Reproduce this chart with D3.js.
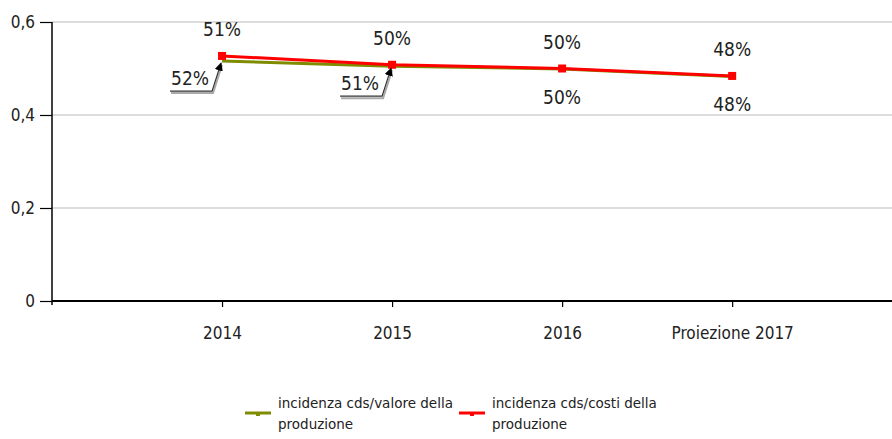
<!DOCTYPE html>
<html>
<head>
<meta charset="utf-8">
<script src="https://cdn.jsdelivr.net/npm/d3@7"></script>
<style>
  body { margin: 0; background: #fff; }
  svg { display: block; }
  .cond { font-stretch: condensed; }
</style>
</head>
<body>
<svg id="plotSvg" width="892" height="439"></svg>
<script>
// categories and series
var categories = ["2014", "2015", "2016", "Proiezione 2017"];
var seriesNames = ["incidenza cds/valore della produzione", "incidenza cds/costi della produzione"];
var valoreValues = [0.516, 0.505, 0.499, 0.483];
var costiValues = [0.527, 0.508, 0.500, 0.484];
var labelsAbove = ["51%", "50%", "50%", "48%"];
var labelsBelow = ["52%", "51%", "50%", "48%"];
var calloutBelow = [true, true, false, false];
var yTicks = [0, 0.2, 0.4, 0.6];

var svg = d3.select("#plotSvg");
var font = "'DejaVu Sans Condensed', 'DejaVu Sans', sans-serif";
var legendFont = "'DejaVu Sans', sans-serif";
var margin = {top: 22, left: 52, right: 0, bottom: 138};
var width = 892 - margin.left - margin.right;
var height = 439 - margin.top - margin.bottom;

var g = svg.append("g").attr("transform", "translate(" + margin.left + "," + margin.top + ")");

var x = d3.scaleLinear().domain([-1, categories.length - 0.06]).range([0, width]);
var y = d3.scaleLinear().domain([0, 0.6]).range([height, 0]);

// grid
g.append("g").selectAll("line")
    .data(yTicks.filter(function (d) { return d > 0; }))
    .enter().append("line")
    .attr("x1", 0).attr("x2", width)
    .attr("y1", function (d) { return y(d); })
    .attr("y2", function (d) { return y(d); })
    .attr("stroke", "#dcdcdc")
    .attr("stroke-width", 2);

// y axis
var yAxis = d3.axisLeft(y).tickValues(yTicks).tickSize(12).tickPadding(5)
    .tickFormat(function (d) { return d3.format(".1f")(d).replace(".", ",").replace(/^0,0$/, "0"); });
var ya = g.append("g").call(yAxis);
ya.select(".domain").attr("d", "M0,0V" + (height + 4)).attr("stroke", "#000").attr("stroke-width", 1.5);
ya.selectAll(".tick line").attr("stroke", "#000").attr("stroke-width", 1.2);
ya.selectAll("text").attr("class", "cond").attr("font-family", font).attr("font-size", 17).attr("fill", "#222");

// x axis
var xAxis = d3.axisBottom(x).tickValues(d3.range(categories.length)).tickSize(6).tickPadding(20)
    .tickFormat(function (d) { return categories[d]; });
var xa = g.append("g").attr("transform", "translate(0," + height + ")").call(xAxis);
xa.select(".domain").attr("d", "M0,0H" + width).attr("stroke", "#000").attr("stroke-width", 2);
xa.selectAll(".tick line").attr("stroke", "#000").attr("stroke-width", 1.2);
xa.selectAll("text").attr("class", "cond").attr("font-family", font).attr("font-size", 17).attr("fill", "#222");

// lines
var line = d3.line().x(function (d, i) { return x(i); }).y(function (d) { return y(d); });

g.append("path").datum(valoreValues)
    .attr("d", line).attr("fill", "none")
    .attr("stroke", "#7f8c00").attr("stroke-width", 3);
g.append("path").datum(costiValues)
    .attr("d", line).attr("fill", "none")
    .attr("stroke", "#ff0000").attr("stroke-width", 3);

g.selectAll(".mk").data(costiValues).enter().append("rect")
    .attr("x", function (d, i) { return x(i) - 4; })
    .attr("y", function (d) { return y(d) - 4; })
    .attr("width", 8).attr("height", 8)
    .attr("fill", "#ff0000");

// labels above
g.selectAll(".la").data(labelsAbove).enter().append("text")
    .attr("class", "cond")
    .attr("x", function (d, i) { return x(i); })
    .attr("y", function (d, i) { return y(costiValues[i]) - 20; })
    .attr("text-anchor", "middle")
    .attr("font-family", font).attr("font-size", 19).attr("fill", "#222")
    .text(function (d) { return d; });

// labels below (plain or with callout)
var defs = svg.append("defs");
defs.append("marker").attr("id", "arr").attr("viewBox", "0 0 10 10")
    .attr("refX", 9).attr("refY", 5).attr("markerWidth", 7).attr("markerHeight", 7)
    .attr("orient", "auto")
    .append("path").attr("d", "M0,0L10,5L0,10z").attr("fill", "#000");

labelsBelow.forEach(function (lab, i) {
    var px = x(i), py = y(valoreValues[i]);
    if (calloutBelow[i]) {
        var tx = px - 32, ty = py + 30;
        var path = "M" + (px - 52) + "," + ty + "H" + (px - 10) + "L" + (px - 1) + "," + (py + 2);
        g.append("path").attr("d", path).attr("transform", "translate(1,2)")
            .attr("fill", "none").attr("stroke", "#aaa").attr("stroke-width", 2);
        g.append("path").attr("d", path)
            .attr("fill", "none").attr("stroke", "#333").attr("stroke-width", 1.2)
            .attr("marker-end", "url(#arr)");
        g.append("text").attr("class", "cond").attr("x", tx).attr("y", ty - 6)
            .attr("text-anchor", "middle")
            .attr("font-family", font).attr("font-size", 19).attr("fill", "#222")
            .text(lab);
    } else {
        g.append("text").attr("class", "cond").attr("x", px).attr("y", py + 35)
            .attr("text-anchor", "middle")
            .attr("font-family", font).attr("font-size", 19).attr("fill", "#222")
            .text(lab);
    }
});

// legend
var legendColors = ["#7f8c00", "#ff0000"];
var legend = svg.append("g").selectAll("g").data(seriesNames).enter().append("g")
    .attr("transform", function (d, i) { return "translate(" + (245 + i * 214) + ",413)"; });
legend.append("line").attr("x1", 0).attr("x2", 26).attr("y1", 0).attr("y2", 0)
    .attr("stroke", function (d, i) { return legendColors[i]; }).attr("stroke-width", 3);
legend.append("rect").attr("x", 11).attr("y", -1).attr("width", 4).attr("height", 4)
    .attr("fill", function (d, i) { return legendColors[i]; });
legend.append("text")
    .attr("font-family", legendFont).attr("font-size", 13.5).attr("fill", "#222")
    .each(function (d) {
        var parts = d.split(" della ");
        var t = d3.select(this);
        t.append("tspan").attr("x", 33).attr("y", -5).text(parts[0] + " della");
        t.append("tspan").attr("x", 33).attr("y", 16).text(parts[1]);
    });
</script>
</body>
</html>
